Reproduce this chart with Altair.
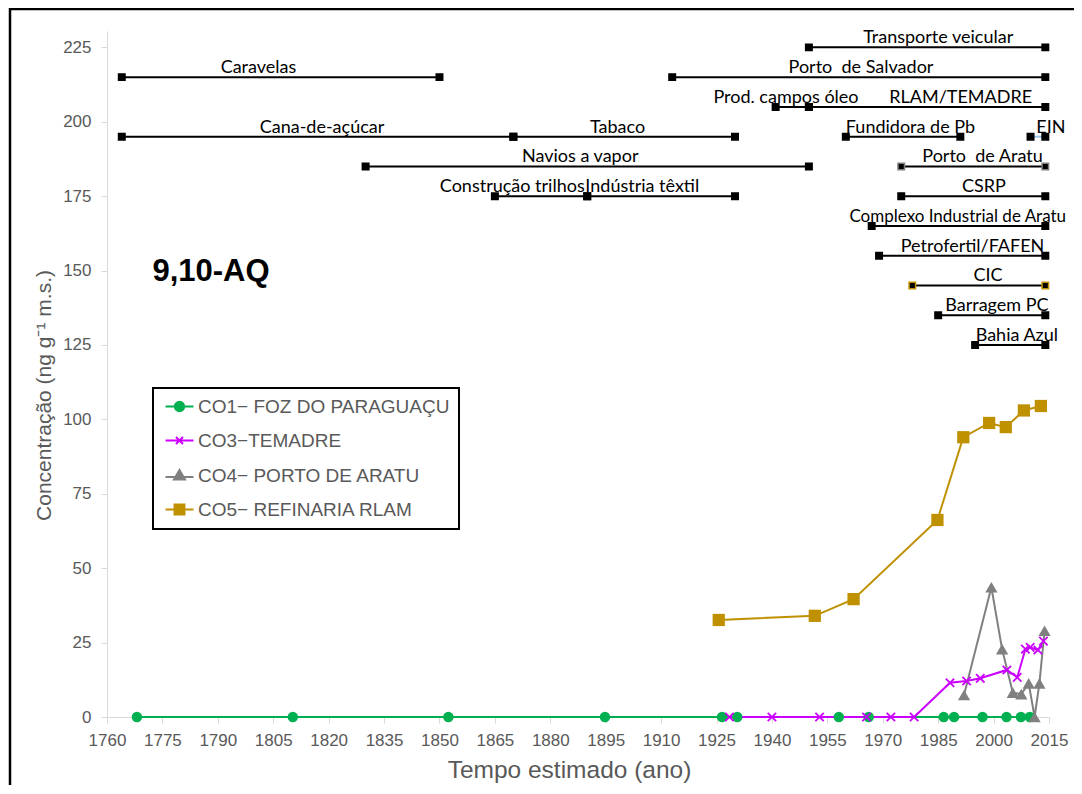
import altair as alt
import pandas as pd

# ---------------- series data (year, concentration) ----------------
series_names = ["CO1\u2212 FOZ DO PARAGUAÇU", "CO3\u2212TEMADRE", "CO4\u2212 PORTO DE ARATU", "CO5\u2212 REFINARIA RLAM"]
series_colors = ["#00B050", "#CC00FF", "#808080", "#BF9000"]

co1_year = [1768.1, 1810.3, 1852.4, 1894.8, 1926.5, 1930.6, 1958.1, 1966.2, 1986.5, 1989.3, 1997.0, 2003.5, 2007.4, 2009.8]
co1_val = [0, 0, 0, 0, 0, 0, 0, 0, 0, 0, 0, 0, 0, 0]

co3_year = [1928.5, 1940.0, 1952.9, 1965.6, 1972.2, 1978.5, 1988.2, 1992.7, 1996.4, 2003.6, 2006.4, 2008.6, 2009.9, 2012.0, 2013.5]
co3_val = [0, 0, 0, 0, 0, 0, 11.5, 12.1, 13.0, 15.8, 13.3, 22.8, 23.4, 22.5, 25.5]

co4_year = [1992.0, 1999.4, 2002.3, 2005.2, 2007.5, 2009.5, 2011.1, 2012.4, 2013.8]
co4_val = [7.4, 43.6, 22.8, 8.2, 7.7, 11.3, 0.0, 11.3, 29.0]

co5_year = [1925.6, 1951.6, 1962.1, 1984.8, 1991.8, 1998.8, 2003.3, 2008.2, 2012.8]
co5_val = [32.6, 34.0, 39.6, 66.2, 94.0, 98.8, 97.4, 103.0, 104.5]

# ---------------- historical events ----------------
ev_name = ["Transporte veicular", "Porto\u00a0 de Salvador", "Caravelas", "Prod. campos óleo", "RLAM/TEMADRE",
           "Cana-de-açúcar", "Tabaco", "Fundidora de Pb", "EIN", "Navios a vapor", "Porto\u00a0 de Aratu",
           "Construção trilhos", "Indústria têxtil", "CSRP", "Complexo Industrial de Aratu",
           "Petrofertil/FAFEN", "CIC", "Barragem PC", "Bahia Azul"]
ev_start = [1950, 1913, 1764, 1941, 1950, 1764, 1870, 1960, 2010, 1830, 1975, 1865, 1890, 1975, 1967, 1969, 1978, 1985, 1995]
ev_end = [2014, 2014, 1850, 1950, 2014, 1870, 1930, 1991, 2014, 1950, 2014, 1890, 1930, 2014, 2014, 2014, 2014, 2014, 2014]
ev_level = [225, 215, 215, 205, 205, 195, 195, 195, 195, 185, 185, 175, 175, 175, 165, 155, 145, 135, 125]
ev_label_year = [1985.0, 1964.1, 1801.0, 1943.8, 1991.1, 1818.2, 1898.2, 1977.5, 2015.5, 1888.1, 1997.0,
                 1869.7, 1904.9, 1997.4, 1990.3, 1994.3, 1998.5, 2000.9, 2006.3]

x_ticks = list(range(1760, 2016, 15))
y_ticks = list(range(0, 226, 25))

W, H = 942, 686
AXIS_FONT = "Liberation Sans"
EV_FONT = "Lato"
GRAY = "#595959"

x_scale = alt.Scale(domain=[1760, 2015], nice=False, zero=False)
y_scale = alt.Scale(domain=[0, 230.5], nice=False)

x_axis = alt.Axis(values=x_ticks, format="d", title="Tempo estimado (ano)", grid=False,
                  domainColor="#D9D9D9", tickColor="#D9D9D9", tickSize=6, labelPadding=9,
                  labelOverlap=False, labelFlush=False,
                  labelFont=AXIS_FONT, labelFontSize=17, labelColor=GRAY,
                  titleFont=AXIS_FONT, titleFontSize=24.5, titleFontWeight="normal", titleColor=GRAY,
                  titlePadding=10, titleX=462)
y_axis = alt.Axis(values=y_ticks, title="Concentração  (ng g\u207b\u00b9 m.s.)", grid=False,
                  domainColor="#D9D9D9", tickColor="#D9D9D9", tickSize=6, labelPadding=10,
                  labelOverlap=False, labelFlush=False,
                  labelFont=AXIS_FONT, labelFontSize=17, labelColor=GRAY,
                  titleFont=AXIS_FONT, titleFontSize=21, titleFontWeight="normal", titleColor=GRAY,
                  titlePadding=8, titleY=364)

def xq(field):
    return alt.X(field, scale=x_scale, axis=x_axis)

def yq(field):
    return alt.Y(field, scale=y_scale, axis=y_axis)

frames = {
    "co1": pd.DataFrame({"year": co1_year, "value": co1_val}),
    "co3": pd.DataFrame({"year": co3_year, "value": co3_val}),
    "co4": pd.DataFrame({"year": co4_year, "value": co4_val}),
    "co5": pd.DataFrame({"year": co5_year, "value": co5_val}),
}

ev_df = pd.DataFrame({"name": ev_name, "start": ev_start, "end": ev_end,
                      "level": ev_level, "label_year": ev_label_year})

# frame around the whole figure (decoration)
frame = alt.Chart(pd.DataFrame({"k": [0]})).mark_rect(
    fillOpacity=0, stroke="black", strokeWidth=2.5
).encode(x=alt.value(-97), x2=alt.value(W + 80), y=alt.value(-22), y2=alt.value(H + 150))

keys = ["co1", "co3", "co4", "co5"]
lines = [
    alt.Chart(frames[k]).mark_line(color=c, strokeWidth=2).encode(x=xq("year:Q"), y=yq("value:Q"))
    for k, c in zip(keys, series_colors)
]

X_PATH = "M-1,-1L1,1M-1,1L1,-1"
pts = [
    alt.Chart(frames["co1"]).mark_point(shape="circle", filled=True, size=110, opacity=1,
                                        color=series_colors[0]).encode(x=xq("year:Q"), y=yq("value:Q")),
    alt.Chart(frames["co3"]).mark_point(shape=X_PATH, filled=False, size=70, opacity=1, strokeWidth=1.8,
                                        color=series_colors[1]).encode(x=xq("year:Q"), y=yq("value:Q")),
    alt.Chart(frames["co4"]).mark_point(shape="triangle-up", filled=True, size=150, opacity=1,
                                        color=series_colors[2]).encode(x=xq("year:Q"), y=yq("value:Q")),
    alt.Chart(frames["co5"]).mark_point(shape="square", filled=True, size=150, opacity=1,
                                        color=series_colors[3]).encode(x=xq("year:Q"), y=yq("value:Q")),
]

# event bars
ev_rules = alt.Chart(ev_df).mark_rule(strokeWidth=2).encode(
    x=xq("start:Q"),
    x2="end:Q",
    y=yq("level:Q"),
    color=alt.when(alt.datum.name == "EIN").then(alt.value("#9DC3E6")).otherwise(alt.value("black")),
)
ev_ends = alt.Chart(ev_df).transform_fold(["start", "end"], as_=["side", "yr"]).mark_square(
    size=42, opacity=1, fill="black", strokeWidth=1.5
).encode(
    x=xq("yr:Q"),
    y=yq("level:Q"),
    stroke=alt.when(alt.datum.name == "CIC").then(alt.value("#BF9000"))
        .when(alt.datum.name == "Porto\u00a0 de Aratu").then(alt.value("#7F7F7F"))
        .otherwise(alt.value("black")),
)
ev_text = alt.Chart(ev_df).mark_text(
    font=EV_FONT, color="black", baseline="alphabetic", align="center", dy=-4
).encode(
    x=xq("label_year:Q"),
    y=yq("level:Q"),
    text="name:N",
    size=alt.when(alt.datum.name == "Complexo Industrial de Aratu").then(alt.value(17)).otherwise(alt.value(18)),
)

# compound label
cmp_df = pd.DataFrame({"label": ["9,10-AQ"], "year": [1772.3], "value": [149.5]})
cmp_text = alt.Chart(cmp_df).mark_text(
    font=AXIS_FONT, fontSize=31, fontWeight="bold", color="black", align="left", baseline="middle"
).encode(x=xq("year:Q"), y=yq("value:Q"), text="label:N")

# legend-only layer (no marks drawn, legend from explicit domains)
legend_shapes = [
    "M-2.4,0H2.4M0.8,0A0.8,0.8,0,1,1,-0.8,0A0.8,0.8,0,1,1,0.8,0Z",
    "M-2.4,0H2.4M-0.6,-0.6L0.6,0.6M-0.6,0.6L0.6,-0.6",
    "M-2.4,0.25H2.4M0,-0.95L0.95,0.7H-0.95Z",
    "M-2.4,0H2.4M-0.85,-0.85H0.85V0.85H-0.85Z",
]
leg = alt.Legend(title=None, orient="none", legendX=46, legendY=357)
legend_layer = alt.Chart(pd.DataFrame({"series": series_names})).transform_filter("false").mark_point(
    filled=True, opacity=1, strokeWidth=2
).encode(
    color=alt.Color("series:N", scale=alt.Scale(domain=series_names, range=series_colors), legend=leg),
    stroke=alt.Stroke("series:N", scale=alt.Scale(domain=series_names, range=series_colors), legend=leg),
    shape=alt.Shape("series:N", scale=alt.Scale(domain=series_names, range=legend_shapes), legend=leg),
)

chart = alt.layer(
    frame, *lines, *pts, ev_rules, ev_ends, ev_text, cmp_text, legend_layer
).properties(
    width=W, height=H,
    autosize=alt.AutoSizeParams(type="none"),
    padding={"left": 99, "top": 23, "right": 25, "bottom": 68},
).configure_view(stroke=None).configure_legend(
    labelFont=AXIS_FONT, labelFontSize=19, labelColor=GRAY, symbolSize=136, symbolStrokeWidth=2,
    rowPadding=14, padding=9, strokeColor="black", strokeWidth=2, labelOffset=9, symbolOffset=8,
    fillColor="white", labelLimit=400
)

chart.save("out.html", embed_options={"renderer": "svg", "actions": False})
